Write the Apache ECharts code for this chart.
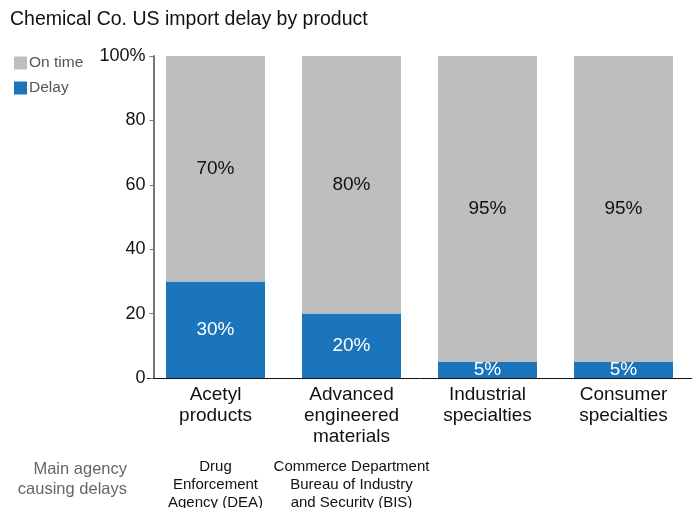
<!DOCTYPE html>
<html><head><meta charset="utf-8">
<script src="https://cdn.jsdelivr.net/npm/echarts@6/dist/echarts.min.js"></script>
<style>html,body{margin:0;padding:0;background:#fff}#c{width:693px;height:508px}</style>
</head><body><div id="c"></div>
<script>
const categories = ['Acetyl\nproducts', 'Advanced\nengineered\nmaterials', 'Industrial\nspecialties', 'Consumer\nspecialties'];
const agencies = ['Drug\nEnforcement\nAgency (DEA)', 'Commerce Department\nBureau of Industry\nand Security (BIS)', '', ''];
const delay = [30, 20, 5, 5];
const onTime = [70, 80, 95, 95];
const yTicks = [0, 20, 40, 60, 80, 100];

const FONT = '"Liberation Sans", Arial, sans-serif';
const chart = echarts.init(document.getElementById('c'));
chart.setOption({
  animation: false,
  textStyle: { fontFamily: FONT },
  title: {
    text: 'Chemical Co. US import delay by product',
    left: 5, top: 5,
    textStyle: { fontFamily: FONT, fontSize: 19.5, fontWeight: 'normal', color: '#111' }
  },
  legend: {
    orient: 'vertical', left: 9, top: 50,
    itemWidth: 13, itemHeight: 13, itemGap: 9,
    icon: 'rect',
    data: ['On time', 'Delay'],
    textStyle: { fontFamily: FONT, fontSize: 15.5, color: '#555', padding: [0, 0, 0, -3] }
  },
  grid: { left: 147.5, right: 1.5, top: 56, bottom: 130, outerBoundsMode: 'none' },
  xAxis: [{
    type: 'category',
    data: categories,
    axisLine: { lineStyle: { color: '#111', width: 1 } },
    axisTick: { show: false },
    axisLabel: { fontFamily: FONT, fontSize: 19, color: '#111', lineHeight: 21, margin: 6, interval: 0 }
  }, {
    type: 'category',
    position: 'bottom',
    offset: 80,
    data: agencies,
    axisLine: { show: false },
    axisTick: { show: false },
    axisLabel: { fontFamily: FONT, fontSize: 15, color: '#111', lineHeight: 18, margin: 0, interval: 0, hideOverlap: false }
  }],
  yAxis: {
    type: 'value', min: 0, max: 100, interval: 20,
    offset: -6,
    splitLine: { show: false },
    axisLine: { show: true, lineStyle: { color: '#777', width: 2 } },
    axisTick: { show: true, length: 4, lineStyle: { color: '#777' } },
    axisLabel: {
      fontFamily: FONT, fontSize: 18, color: '#111', margin: 8,
      formatter: v => yTicks.includes(v) ? (v === 100 ? '100%' : String(v)) : ''
    }
  },
  graphic: [{
    type: 'text', x: 127, y: 459,
    style: {
      text: 'Main agency\ncausing delays', fill: '#666', font: '16.5px ' + FONT,
      align: 'right', verticalAlign: 'top', lineHeight: 20
    }
  }],
  series: [{
    name: 'Delay', type: 'bar', stack: 's', barWidth: 99,
    data: delay,
    itemStyle: { color: '#1a75bc' },
    label: { show: true, position: 'inside', formatter: '{c}%', color: '#fff', fontFamily: FONT, fontSize: 19 }
  }, {
    name: 'On time', type: 'bar', stack: 's', barWidth: 99,
    data: onTime,
    itemStyle: { color: '#bdbec0' },
    label: { show: true, position: 'inside', formatter: '{c}%', color: '#111', fontFamily: FONT, fontSize: 19 }
  }]
});
</script></body></html>
